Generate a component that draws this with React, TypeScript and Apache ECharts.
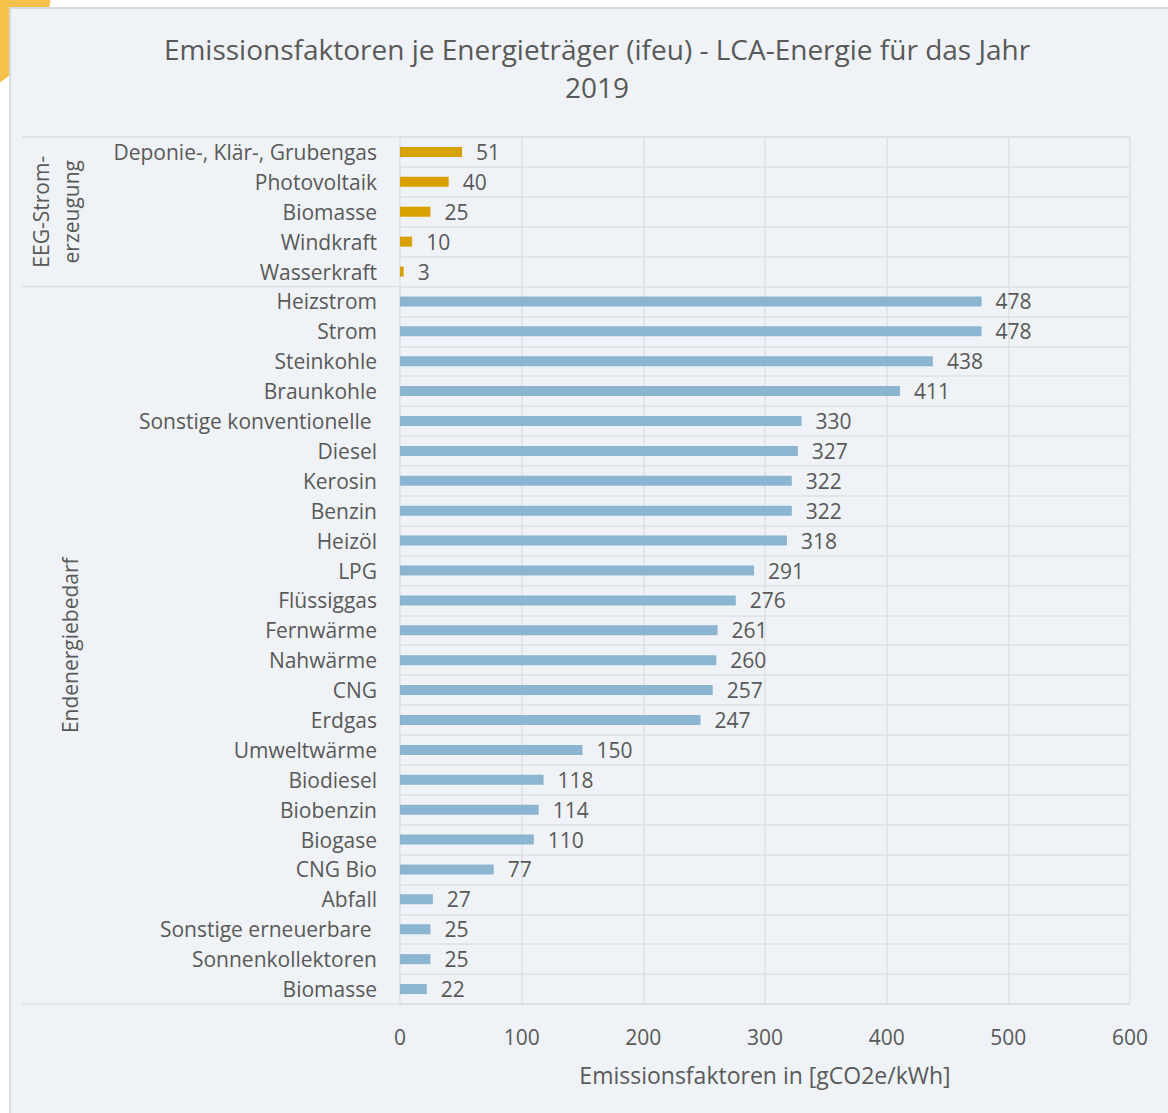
import React, { useEffect, useRef } from "react";
import * as echarts from "echarts";

const titleText = "Emissionsfaktoren je Energieträger (ifeu) - LCA-Energie für das Jahr\n2019";
const xAxisName = "Emissionsfaktoren in [gCO2e/kWh]";
const groupNames = ["EEG-Strom-\nerzeugung", "Endenergiebedarf"];

const eegCategories = ["Deponie-, Klär-, Grubengas", "Photovoltaik", "Biomasse", "Windkraft", "Wasserkraft"];
const eegValues = [51, 40, 25, 10, 3];

const endCategories = [
  "Heizstrom", "Strom", "Steinkohle", "Braunkohle", "Sonstige konventionelle ", "Diesel", "Kerosin",
  "Benzin", "Heizöl", "LPG", "Flüssiggas", "Fernwärme", "Nahwärme", "CNG", "Erdgas", "Umweltwärme",
  "Biodiesel", "Biobenzin", "Biogase", "CNG Bio", "Abfall", "Sonstige erneuerbare ", "Sonnenkollektoren", "Biomasse",
];
const endValues = [478, 478, 438, 411, 330, 327, 322, 322, 318, 291, 276, 261, 260, 257, 247, 150, 118, 114, 110, 77, 27, 25, 25, 22];

const xTicks = [0, 100, 200, 300, 400, 500, 600];

const W = 1168;
const H = 1113;
const FONT = "'Open Sans', 'Noto Sans', sans-serif";
const TXT = "#595959";
const GRIDC = "#dcdfe3";
const GRID_LEFT = 400;
const GRID_RIGHT = 38;
const GRID_TOP = 137;
const GRID_BOTTOM = 109;
const FS = 21;

export default function App() {
  const ref = useRef<HTMLDivElement>(null);
  useEffect(() => {
    document.body.style.margin = "0";
    if (!ref.current) return;
    const chart = echarts.init(ref.current, undefined, { renderer: "svg" });
    const categories = [...eegCategories, ...endCategories];
    const data = [
      ...eegValues.map((v) => ({ value: v, itemStyle: { color: "#d9a100" } })),
      ...endValues.map((v) => ({ value: v, itemStyle: { color: "#8bb5d1" } })),
    ];
    const n = categories.length;
    const plotH = H - GRID_TOP - GRID_BOTTOM;
    const rowH = plotH / n;
    const yTop = GRID_TOP;
    const yMid = GRID_TOP + eegCategories.length * rowH;
    const yBot = H - GRID_BOTTOM;
    const gridRightX = W - GRID_RIGHT;

    const hLine = (y: number, x2: number) => ({
      type: "line",
      shape: { x1: 22, y1: y, x2, y2: y },
      style: { stroke: GRIDC, lineWidth: 1.5 },
      silent: true,
    });

    chart.setOption({
      animation: false,
      backgroundColor: "transparent",
      title: {
        text: titleText,
        left: 592,
        textAlign: "center",
        top: 25,
        textStyle: { fontFamily: FONT, fontSize: 28, fontWeight: "normal", color: TXT, lineHeight: 38 },
      },
      grid: { left: GRID_LEFT, right: GRID_RIGHT, top: GRID_TOP, bottom: GRID_BOTTOM, containLabel: false },
      xAxis: {
        type: "value",
        min: 0,
        max: 600,
        interval: 100,
        name: xAxisName,
        nameLocation: "middle",
        nameGap: 59,
        nameTextStyle: { fontFamily: FONT, fontSize: 23, color: TXT },
        axisLine: { show: false },
        axisTick: { show: false },
        axisLabel: {
          margin: 22,
          fontFamily: FONT,
          fontSize: FS,
          color: TXT,
          formatter: (v: number) => (xTicks.includes(v) ? String(v) : ""),
        },
        splitLine: { show: true, lineStyle: { color: GRIDC, width: 1.5 } },
      },
      yAxis: {
        type: "category",
        inverse: true,
        data: categories,
        axisLine: { show: false },
        axisTick: { show: false },
        axisLabel: { margin: 23, fontFamily: FONT, fontSize: FS, color: TXT, interval: 0 },
        splitLine: { show: true, interval: 0, lineStyle: { color: GRIDC, width: 1.5 } },
      },
      series: [
        {
          type: "bar",
          data,
          barWidth: 10,
          label: {
            show: true,
            position: "right",
            distance: 14,
            fontFamily: FONT,
            fontSize: FS,
            color: TXT,
          },
        },
      ],
      graphic: [
        hLine(yTop, gridRightX),
        hLine(yMid, GRID_LEFT),
        hLine(yBot, gridRightX),
        {
          type: "text",
          x: 56,
          y: (yTop + yMid) / 2,
          rotation: Math.PI / 2,
          style: {
            text: groupNames[0],
            fontFamily: FONT,
            fontSize: FS,
            fill: TXT,
            align: "center",
            verticalAlign: "middle",
            lineHeight: 30,
          },
          silent: true,
        },
        {
          type: "text",
          x: 70,
          y: (yMid + yBot) / 2,
          rotation: Math.PI / 2,
          style: {
            text: groupNames[1],
            fontFamily: FONT,
            fontSize: FS,
            fill: TXT,
            align: "center",
            verticalAlign: "middle",
          },
          silent: true,
        },
      ],
    });
    return () => chart.dispose();
  }, []);

  return (
    <div style={{ position: "relative", width: W, height: H, overflow: "hidden", background: "#ffffff" }}>
      <div
        style={{
          position: "absolute",
          left: -175,
          top: -125,
          width: 226,
          height: 226,
          borderRadius: "50%",
          background: "#f4c24a",
        }}
      />
      <div
        style={{
          position: "absolute",
          left: 9,
          top: 7,
          width: W,
          height: H,
          boxSizing: "border-box",
          border: "2px solid #d7dadf",
          background: "#eff2f6",
        }}
      />
      <div ref={ref} style={{ position: "absolute", left: 0, top: 0, width: W, height: H }} />
    </div>
  );
}
